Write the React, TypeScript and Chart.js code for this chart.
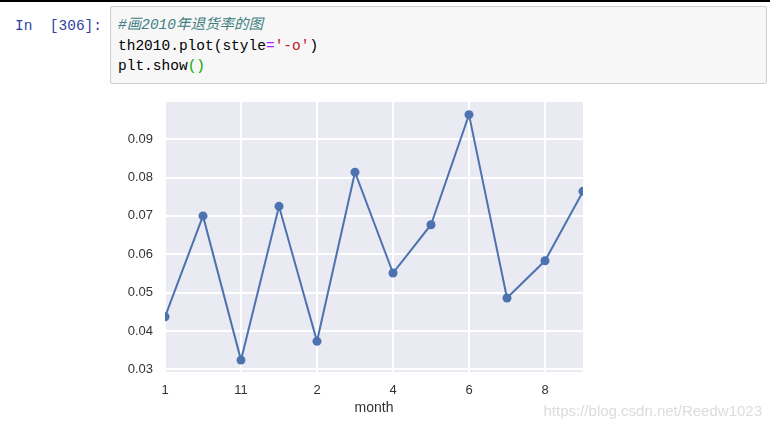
import React, { useEffect, useRef } from "react";
import { Chart, registerables } from "chart.js";

Chart.register(...registerables);

// month labels in the order of the pandas index (string-sorted)
const months = ["1", "10", "11", "12", "2", "3", "4", "5", "6", "7", "8", "9"];
// return rate per month in 2010
const returnRate = [0.0437, 0.07, 0.0324, 0.0725, 0.0373, 0.0814, 0.0551, 0.0677, 0.0964, 0.0486, 0.0583, 0.0764];
const xTickPositions = [0, 2, 4, 6, 8, 10];
const yTickValues = [0.03, 0.04, 0.05, 0.06, 0.07, 0.08, 0.09];
const yMin = 0.0293;
const yMax = 0.0997;
const xAxisTitle = "month";

const bgPlugin = {
  id: "bgPlugin",
  beforeDraw(chart: any) {
    const { ctx, chartArea } = chart;
    ctx.save();
    ctx.fillStyle = "#EAEAF2";
    ctx.fillRect(chartArea.left, chartArea.top, chartArea.right - chartArea.left, chartArea.bottom - chartArea.top);
    ctx.restore();
  },
};

function LineChart() {
  const ref = useRef<HTMLCanvasElement | null>(null);
  useEffect(() => {
    if (!ref.current) return;
    const chart = new Chart(ref.current, {
      type: "line",
      data: {
        datasets: [
          {
            data: returnRate.map((v, i) => ({ x: i, y: v })),
            borderColor: "#4C72B0",
            backgroundColor: "#4C72B0",
            borderWidth: 2,
            pointRadius: 4.5,
            pointBorderWidth: 0,
            pointBackgroundColor: "#4C72B0",
            clip: 0,
            tension: 0,
          } as any,
        ],
      },
      options: {
        animation: false,
        responsive: false,
        events: [],
        layout: { autoPadding: false, padding: { left: 0, right: 17, top: 7, bottom: 8 } },
        plugins: { legend: { display: false }, tooltip: { enabled: false } },
        scales: {
          x: {
            type: "linear",
            min: 0,
            max: months.length - 1,
            afterBuildTicks: (scale: any) => {
              scale.ticks = xTickPositions.map((v) => ({ value: v }));
            },
            afterFit: (scale: any) => {
              scale.height = 45;
              scale.paddingLeft = 0;
              scale.paddingRight = 0;
            },
            grid: { color: "#ffffff", lineWidth: 2, drawTicks: false },
            border: { display: false },
            ticks: {
              padding: 11,
              color: "#333333",
              font: { family: "'Liberation Sans', Arial, sans-serif", size: 13 },
              callback: (v: any) => months[Number(v)] ?? "",
              maxRotation: 0,
              autoSkip: false,
            },
            title: {
              display: true,
              text: xAxisTitle,
              color: "#333333",
              padding: { top: 0, bottom: 0 },
              font: { family: "'Liberation Sans', Arial, sans-serif", size: 14 },
            },
          },
          y: {
            type: "linear",
            min: yMin,
            max: yMax,
            afterBuildTicks: (scale: any) => {
              scale.ticks = yTickValues.map((v) => ({ value: v }));
            },
            afterFit: (scale: any) => {
              scale.width = 55;
              scale.paddingTop = 0;
              scale.paddingBottom = 0;
            },
            grid: { color: "#ffffff", lineWidth: 2, drawTicks: false },
            border: { display: false },
            ticks: {
              padding: 12,
              color: "#333333",
              font: { family: "'Liberation Sans', Arial, sans-serif", size: 13 },
              callback: (v: any) => Number(v).toFixed(2),
              autoSkip: false,
            },
          },
        },
      } as any,
      plugins: [bgPlugin],
    });
    return () => chart.destroy();
  }, []);
  return (
    <canvas
      ref={ref}
      width={490}
      height={330}
      style={{ position: "absolute", left: 110, top: 95, width: 490, height: 330 }}
    />
  );
}

const mono = "'Liberation Mono', 'Noto Sans CJK SC', monospace";

export default function App() {
  return (
    <div style={{ position: "absolute", left: 0, top: 0, width: 770, height: 429, background: "#ffffff", overflow: "hidden" }}>
      <div style={{ position: "absolute", left: 0, top: 0, width: 770, height: 2, background: "#000000" }} />
      <div
        style={{
          position: "absolute",
          left: 15,
          top: 16,
          fontFamily: mono,
          fontSize: 14.5,
          lineHeight: "21px",
          color: "#303F9F",
          whiteSpace: "pre",
        }}
      >
        {"In  [306]:"}
      </div>
      <div
        style={{
          position: "absolute",
          left: 110,
          top: 6,
          width: 655,
          height: 76,
          background: "#F7F7F7",
          border: "1px solid #CFCFCF",
          borderRadius: 2,
        }}
      >
        <pre
          style={{
            margin: 0,
            paddingLeft: 7,
            paddingTop: 8,
            fontFamily: mono,
            fontSize: 14.5,
            lineHeight: "20.5px",
            color: "#000000",
          }}
        >
          <span style={{ color: "#408080", fontStyle: "italic" }}>#画2010年退货率的图</span>
          {"\n"}
          {"th2010.plot(style"}
          <span style={{ color: "#AA22FF" }}>=</span>
          <span style={{ color: "#BA2121" }}>'-o'</span>
          {")\n"}
          {"plt.show"}
          <span style={{ color: "#00AA00" }}>()</span>
        </pre>
      </div>
      <LineChart />
      <div
        style={{
          position: "absolute",
          right: 8,
          top: 402,
          fontFamily: "'Liberation Sans', Arial, sans-serif",
          fontSize: 15,
          color: "#DCDCDC",
        }}
      >
        https://blog.csdn.net/Reedw1023
      </div>
    </div>
  );
}
